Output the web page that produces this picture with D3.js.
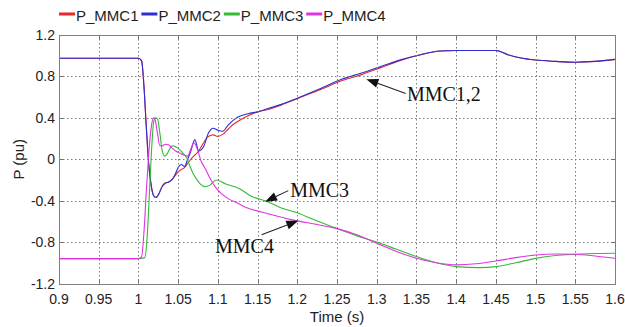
<!DOCTYPE html>
<html>
<head>
<meta charset="utf-8">
<script src="https://cdn.jsdelivr.net/npm/d3@7"></script>
<style>
  body { margin: 0; }
  .tick-label { font-family: "Liberation Sans", Arial, sans-serif; font-size: 14px; fill: #222; }
  .axis-title { font-family: "Liberation Sans", Arial, sans-serif; font-size: 15px; fill: #222; }
  .legend-label { font-family: "Liberation Sans", Arial, sans-serif; font-size: 15px; fill: #222; }
  .anno-label { font-family: "Liberation Serif", "Times New Roman", serif; font-size: 20px; fill: #111; }
</style>
</head>
<body>
<svg id="chart" width="625" height="327"></svg>
<script>
// ------------------------------------------
//  Data
// ------------------------------------------
const seriesNames = ['P_MMC1', 'P_MMC2', 'P_MMC3', 'P_MMC4']
const seriesColors = ['#e8262b', '#2f2fd0', '#33bb33', '#e033e0']

const xTicks = [0.9, 0.95, 1, 1.05, 1.1, 1.15, 1.2, 1.25, 1.3, 1.35, 1.4, 1.45, 1.5, 1.55, 1.6]
const yTicks = [-1.2, -0.8, -0.4, 0, 0.4, 0.8, 1.2]

// MMC1 and MMC2 share the time base
const t12 = [0.9, 1.0, 1.004, 1.007, 1.010, 1.013, 1.016, 1.019, 1.022, 1.026,
  1.030, 1.034, 1.038, 1.042, 1.046, 1.050, 1.054, 1.058, 1.062, 1.066,
  1.071, 1.076, 1.082, 1.088, 1.094, 1.100, 1.106, 1.113, 1.120, 1.126,
  1.138, 1.151, 1.163, 1.180, 1.200, 1.230, 1.255, 1.280, 1.305, 1.330,
  1.355, 1.380, 1.400, 1.450, 1.465, 1.480, 1.500, 1.525, 1.550, 1.575, 1.600]

const pMMC1 = [0.975, 0.975, 0.95, 0.7, 0.3, -0.05, -0.25, -0.35, -0.37, -0.33,
  -0.26, -0.23, -0.22, -0.2, -0.16, -0.12, -0.10, -0.08, -0.04, 0.0,
  0.04, 0.08, 0.16, 0.22, 0.235, 0.22, 0.24, 0.29, 0.34, 0.37,
  0.42, 0.46, 0.48, 0.525, 0.585, 0.675, 0.755, 0.815, 0.885, 0.955,
  1.01, 1.045, 1.05, 1.05, 1.01, 0.98, 0.958, 0.945, 0.937, 0.945, 0.965]

const pMMC2 = [0.975, 0.975, 0.95, 0.7, 0.3, -0.05, -0.25, -0.35, -0.37, -0.33,
  -0.26, -0.23, -0.22, -0.2, -0.15, -0.08, -0.05, -0.07, 0.0, 0.08,
  0.19, 0.08, 0.12, 0.25, 0.30, 0.28, 0.27, 0.33, 0.38, 0.41,
  0.44, 0.46, 0.49, 0.53, 0.59, 0.685, 0.77, 0.83, 0.895, 0.96,
  1.01, 1.045, 1.05, 1.05, 1.01, 0.98, 0.958, 0.945, 0.937, 0.945, 0.965]

const tMMC3 = [0.9, 1.0, 1.008, 1.011, 1.014, 1.017, 1.019, 1.021, 1.024, 1.027,
  1.030, 1.033, 1.036, 1.040, 1.043, 1.047, 1.052, 1.057, 1.061, 1.065,
  1.069, 1.073, 1.078, 1.084, 1.090, 1.098, 1.110, 1.126, 1.143, 1.163,
  1.180, 1.197, 1.220, 1.250, 1.275, 1.300, 1.325, 1.350, 1.375, 1.400,
  1.430, 1.450, 1.475, 1.500, 1.525, 1.550, 1.575, 1.600]

const pMMC3 = [-0.96, -0.96, -0.95, -0.75, -0.3, 0.15, 0.35, 0.40, 0.39, 0.25,
  0.08, 0.03, 0.05, 0.11, 0.13, 0.12, 0.09, 0.05, 0.01, -0.07,
  -0.14, -0.19, -0.24, -0.265, -0.25, -0.20, -0.24, -0.28, -0.36, -0.41,
  -0.47, -0.51, -0.58, -0.67, -0.74, -0.80, -0.87, -0.94, -1.0, -1.037,
  -1.047, -1.037, -1.0, -0.957, -0.93, -0.918, -0.91, -0.908]

const tMMC4 = [0.9, 1.0, 1.004, 1.007, 1.010, 1.013, 1.016, 1.019, 1.021, 1.024,
  1.027, 1.030, 1.034, 1.038, 1.042, 1.047, 1.052, 1.057, 1.062, 1.066,
  1.070, 1.074, 1.079, 1.084, 1.090, 1.096, 1.104, 1.113, 1.124, 1.134,
  1.155, 1.175, 1.197, 1.225, 1.250, 1.275, 1.300, 1.325, 1.350, 1.375,
  1.400, 1.425, 1.450, 1.475, 1.500, 1.525, 1.550, 1.575, 1.600]

const pMMC4 = [-0.96, -0.96, -0.94, -0.7, -0.3, 0.05, 0.3, 0.40, 0.38, 0.25,
  0.13, 0.13, 0.145, 0.14, 0.11, 0.08, 0.06, 0.04, 0.03, 0.10,
  0.16, 0.10, -0.02, -0.09, -0.18, -0.26, -0.33, -0.38, -0.42, -0.46,
  -0.51, -0.55, -0.59, -0.63, -0.67, -0.73, -0.81, -0.89, -0.957, -1.0,
  -1.02, -1.01, -0.983, -0.95, -0.925, -0.915, -0.918, -0.935, -0.957]

// annotation labels: text anchor point, arrow tail and arrow tip (data units)
const annoLabels = ['MMC1,2', 'MMC3', 'MMC4']
const annoText = [[1.338, 0.56], [1.191, -0.364], [1.0964, -0.905]]
const annoTail = [[1.3365, 0.634], [1.1887, -0.303], [1.155, -0.73]]
const annoTip = [[1.287, 0.773], [1.1594, -0.41], [1.2013, -0.593]]

// ------------------------------------------
//  Layout
// ------------------------------------------
const svg = d3.select('#chart')
const W = 625, H = 327
const x = d3.scaleLinear().domain([0.9, 1.6]).range([59, W - 10])
const y = d3.scaleLinear().domain([-1.2, 1.2]).range([H - 43.5, 35])

const xL = 59, xR = W - 10, yB = H - 43.5, yT = 35
const px = v => Math.round(v) + 0.5

// ------------------------------------------
//  Series
// ------------------------------------------
const series = [
  { t: t12, p: pMMC1 },
  { t: t12, p: pMMC2 },
  { t: tMMC3, p: pMMC3 },
  { t: tMMC4, p: pMMC4 }
]

const lineGen = d3.line()
  .x(d => x(d[0]))
  .y(d => y(d[1]))
  .curve(d3.curveMonotoneX)

series.forEach((s, k) => {
  svg.append('path')
    .attr('fill', 'none')
    .attr('stroke', seriesColors[k])
    .attr('stroke-width', 1.1)
    .attr('d', lineGen(s.t.map((t, i) => [t, s.p[i]])))
})

// ------------------------------------------
//  Grid, frame and tick marks (on top, like the scope view)
// ------------------------------------------
xTicks.slice(1, -1).forEach(d => {
  svg.append('line')
    .attr('x1', px(x(d))).attr('x2', px(x(d)))
    .attr('y1', yT).attr('y2', yB)
    .attr('stroke', '#7a7a7a').attr('stroke-dasharray', '1.5,2.5')
})
yTicks.slice(1, -1).forEach(d => {
  svg.append('line')
    .attr('x1', xL).attr('x2', xR)
    .attr('y1', px(y(d))).attr('y2', px(y(d)))
    .attr('stroke', '#7a7a7a').attr('stroke-dasharray', '1.5,2.5')
})
xTicks.forEach(d => {
  svg.append('line')
    .attr('x1', px(x(d))).attr('x2', px(x(d))).attr('y1', yB).attr('y2', yB - 4)
    .attr('stroke', '#707070')
  svg.append('line')
    .attr('x1', px(x(d))).attr('x2', px(x(d))).attr('y1', yT).attr('y2', yT + 4)
    .attr('stroke', '#707070')
})
yTicks.forEach(d => {
  svg.append('line')
    .attr('x1', xL).attr('x2', xL + 4).attr('y1', px(y(d))).attr('y2', px(y(d)))
    .attr('stroke', '#707070')
  svg.append('line')
    .attr('x1', xR).attr('x2', xR - 4).attr('y1', px(y(d))).attr('y2', px(y(d)))
    .attr('stroke', '#707070')
})

svg.append('rect')
  .attr('x', px(xL)).attr('y', px(yT))
  .attr('width', Math.round(xR - xL)).attr('height', Math.round(yB - yT))
  .attr('fill', 'none')
  .attr('stroke', '#808080')

// ------------------------------------------
//  Tick labels + titles
// ------------------------------------------
xTicks.forEach(d => {
  svg.append('text')
    .attr('class', 'tick-label')
    .attr('x', x(d))
    .attr('y', yB + 20.5)
    .attr('text-anchor', 'middle')
    .text(String(d))
})

yTicks.forEach(d => {
  svg.append('text')
    .attr('class', 'tick-label')
    .attr('x', xL - 4)
    .attr('y', y(d) + 5)
    .attr('text-anchor', 'end')
    .text(String(d))
})

svg.append('text').attr('class', 'axis-title')
  .attr('x', (xL + xR) / 2)
  .attr('y', 322)
  .attr('text-anchor', 'middle')
  .text('Time (s)')

svg.append('text').attr('class', 'axis-title')
  .attr('transform', `translate(24,${(yB + yT) / 2}) rotate(-90)`)
  .attr('text-anchor', 'middle')
  .text('P (pu)')

// ------------------------------------------
//  Legend
// ------------------------------------------
seriesNames.forEach((name, i) => {
  const left = 59 + i * 82.4
  svg.append('line')
    .attr('x1', left).attr('x2', left + 16)
    .attr('y1', 14).attr('y2', 14)
    .attr('stroke', seriesColors[i])
    .attr('stroke-width', 3)
  svg.append('text')
    .attr('class', 'legend-label')
    .attr('x', left + 17).attr('y', 20.5)
    .text(name)
})

// ------------------------------------------
//  Annotations
// ------------------------------------------
annoLabels.forEach((label, i) => {
  const ax = x(annoTail[i][0]), ay = y(annoTail[i][1])
  const bx = x(annoTip[i][0]), by = y(annoTip[i][1])
  const ang = Math.atan2(by - ay, bx - ax)
  const len = 12, half = 4.5
  const baseX = bx - len * Math.cos(ang), baseY = by - len * Math.sin(ang)

  svg.append('line')
    .attr('x1', ax).attr('y1', ay)
    .attr('x2', baseX).attr('y2', baseY)
    .attr('stroke', '#222').attr('stroke-width', 1.1)

  svg.append('path')
    .attr('d', `M${bx},${by}` +
      `L${baseX + half * Math.sin(ang)},${baseY - half * Math.cos(ang)}` +
      `L${baseX - half * Math.sin(ang)},${baseY + half * Math.cos(ang)}Z`)
    .attr('fill', '#111')

  svg.append('text')
    .attr('class', 'anno-label')
    .attr('x', x(annoText[i][0]))
    .attr('y', y(annoText[i][1]))
    .text(label)
})
</script>
</body>
</html>
